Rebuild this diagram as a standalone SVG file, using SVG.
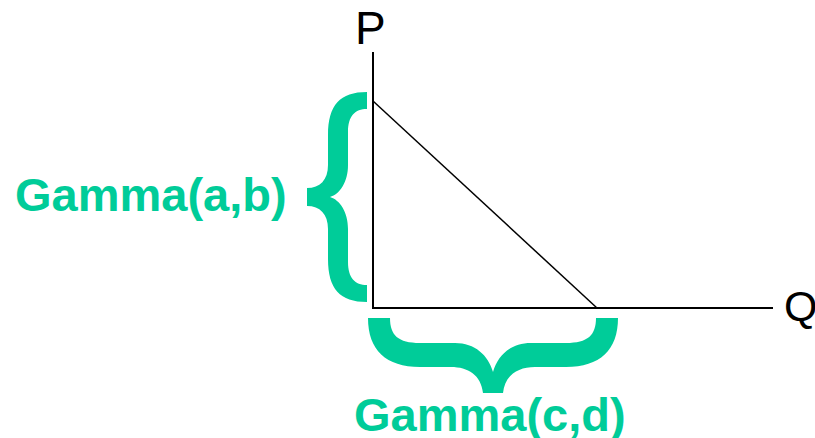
<svg xmlns="http://www.w3.org/2000/svg" width="815" height="438" viewBox="0 0 815 438">
<style>
.axis{stroke:#000;stroke-width:2;fill:none}
.diag{stroke:#000;stroke-width:1.5;fill:none}
.brace{fill:#00CC99;stroke:none}
.lbl{font-family:"Liberation Sans",Arial,sans-serif;font-size:46px;fill:#000}
.glbl{font-family:"Liberation Sans",Arial,sans-serif;font-size:47px;font-weight:bold;fill:#00CC99}
</style>
<rect width="815" height="438" fill="#fff"/>
<g id="connectors">
<line class="axis" x1="373" y1="52" x2="373" y2="308"/>
<line class="axis" x1="372" y1="308" x2="773" y2="308"/>
<line class="diag" x1="373" y1="101" x2="597" y2="308"/>
</g>
<g id="P"><text class="lbl" x="355" y="44">P</text></g>
<g id="Q"><text class="lbl" x="784" y="321" style="font-size:43px">Q</text></g>
<g id="braceLeft">
<path class="brace" d="M 367 92 C 340 92, 328 105, 328 135 L 328 165 C 328 180, 320 188, 307 188 L 307 206 C 320 206, 328 214, 328 229 L 328 259 C 328 289, 340 302, 367 302 L 367 285 C 355 285, 348 278, 348 262 L 348 229 C 348 212, 340 200, 330 197 C 340 194, 348 182, 348 165 L 348 132 C 348 116, 355 109, 367 109 Z"/>
</g>
<g id="braceBottom">
<path class="brace" d="M 368 318 L 390 318 C 390 335, 398 343, 420 343 L 455 343 C 475 343, 488 355, 493 372 C 498 355, 511 343, 531 343 L 566 343 C 588 343, 596 335, 596 318 L 618 318 C 618 350, 600 367, 566 367 L 535 367 C 518 367, 505 375, 503 393 L 483 393 C 481 375, 468 367, 451 367 L 420 367 C 386 367, 368 350, 368 318 Z"/>
</g>
<g id="gammaAB"><text class="glbl" x="15" y="211">Gamma(a,b)</text></g>
<g id="gammaCD"><text class="glbl" x="354" y="431">Gamma(c,d)</text></g>
</svg>
